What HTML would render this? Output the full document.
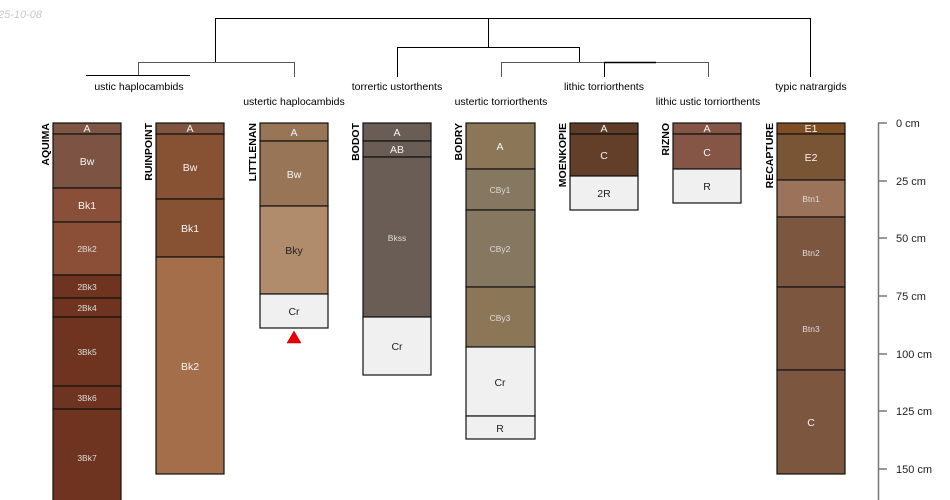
<!DOCTYPE html>
<html><head><meta charset="utf-8"><style>
html,body{margin:0;padding:0;background:#fff;width:950px;height:500px;overflow:hidden}
svg{display:block;font-family:"Liberation Sans",sans-serif}
</style></head><body>
<svg width="950" height="500" viewBox="0 0 950 500">
<text x="-2" y="18" font-size="11" font-style="italic" fill="#c8c8c8">25-10-08</text>
<g stroke="#000" stroke-width="1" fill="none">
<path d="M215.5 62V18.5H810.5V77"/>
<path d="M488.5 18V47"/>
<path d="M397.5 77V47.5H579.5V62"/>
<path d="M138.5 76V62.5H294.5V77" stroke="#555"/>
<path d="M86 75.5H190"/>
<path d="M501.5 77V62.5H708.5V77" stroke="#555"/>
<path d="M604.5 62V77"/>
<path d="M604 62.5H656" stroke-width="1.5"/>
</g>
<g font-size="10.5" fill="#000" text-anchor="middle">
<text x="139" y="90">ustic haplocambids</text>
<text x="294" y="105">ustertic haplocambids</text>
<text x="397" y="90">torrertic ustorthents</text>
<text x="501" y="105">ustertic torriorthents</text>
<text x="604" y="90">lithic torriorthents</text>
<text x="708" y="105">lithic ustic torriorthents</text>
<text x="811" y="90">typic natrargids</text>
</g>
<g stroke="#111" stroke-width="1.2">
<!-- AQUIMA -->
<rect x="53" y="123" width="68" height="11" fill="#7f5645"/>
<rect x="53" y="134" width="68" height="54" fill="#7d5444"/>
<rect x="53" y="188" width="68" height="34" fill="#8a4f38"/>
<rect x="53" y="222" width="68" height="53" fill="#8b4f38"/>
<rect x="53" y="275" width="68" height="23" fill="#6e3420"/>
<rect x="53" y="298" width="68" height="19" fill="#6e3420"/>
<rect x="53" y="317" width="68" height="69" fill="#6e3420"/>
<rect x="53" y="386" width="68" height="23" fill="#6e3420"/>
<rect x="53" y="409" width="68" height="100" fill="#6e3420"/>
<!-- RUINPOINT -->
<rect x="156" y="123" width="68" height="11" fill="#7f5540"/>
<rect x="156" y="134" width="68" height="65" fill="#875233"/>
<rect x="156" y="199" width="68" height="58" fill="#875233"/>
<rect x="156" y="257" width="68" height="217" fill="#a56e4a"/>
<!-- LITTLENAN -->
<rect x="260" y="123" width="68" height="18" fill="#977556"/>
<rect x="260" y="141" width="68" height="65" fill="#977556"/>
<rect x="260" y="206" width="68" height="88" fill="#b08c6c"/>
<rect x="260" y="294" width="68" height="34" fill="#f0f0f0"/>
<!-- BODOT -->
<rect x="363" y="123" width="68" height="18" fill="#6a5d55"/>
<rect x="363" y="141" width="68" height="16" fill="#6a5d55"/>
<rect x="363" y="157" width="68" height="160" fill="#6a5d55"/>
<rect x="363" y="317" width="68" height="58" fill="#f0f0f0"/>
<!-- BODRY -->
<rect x="466" y="123" width="69" height="46" fill="#8b7757"/>
<rect x="466" y="169" width="69" height="41" fill="#857760"/>
<rect x="466" y="210" width="69" height="77" fill="#857760"/>
<rect x="466" y="287" width="69" height="60" fill="#8b7757"/>
<rect x="466" y="347" width="69" height="69" fill="#f0f0f0"/>
<rect x="466" y="416" width="69" height="23" fill="#f0f0f0"/>
<!-- MOENKOPIE -->
<rect x="570" y="123" width="68" height="11" fill="#5e3c28"/>
<rect x="570" y="134" width="68" height="42" fill="#633f2a"/>
<rect x="570" y="176" width="68" height="34" fill="#f0f0f0"/>
<!-- RIZNO -->
<rect x="673" y="123" width="68" height="11" fill="#855645"/>
<rect x="673" y="134" width="68" height="35" fill="#855645"/>
<rect x="673" y="169" width="68" height="34" fill="#f0f0f0"/>
<!-- RECAPTURE -->
<rect x="777" y="123" width="68" height="11" fill="#7f4e24"/>
<rect x="777" y="134" width="68" height="46" fill="#795535"/>
<rect x="777" y="180" width="68" height="37" fill="#9b735a"/>
<rect x="777" y="217" width="68" height="70" fill="#7d5640"/>
<rect x="777" y="287" width="68" height="83" fill="#7d5640"/>
<rect x="777" y="370" width="68" height="104" fill="#7d5640"/>
</g>
<polygon points="294,331 287,343 301,343" fill="#e00" stroke="#900" stroke-width="0.5"/>
<g text-anchor="middle" font-size="10.5" fill="#f4f4f4">
<text x="87" y="132">A</text><text x="87" y="165">Bw</text><text x="87" y="209">Bk1</text>
<g font-size="8.5" fill="#ddd"><text x="87" y="252">2Bk2</text><text x="87" y="290">2Bk3</text><text x="87" y="311">2Bk4</text><text x="87" y="355">3Bk5</text><text x="87" y="401">3Bk6</text><text x="87" y="461">3Bk7</text></g>
<text x="190" y="132">A</text><text x="190" y="171">Bw</text><text x="190" y="232">Bk1</text><text x="190" y="370">Bk2</text>
<text x="294" y="136">A</text><text x="294" y="178">Bw</text><text x="294" y="254" fill="#222">Bky</text><text x="294" y="315" fill="#222">Cr</text>
<text x="397" y="136">A</text><text x="397" y="153">AB</text><text x="397" y="241" font-size="8.5" fill="#ddd">Bkss</text><text x="397" y="350" fill="#222">Cr</text>
<text x="500" y="150">A</text>
<g font-size="8.5" fill="#ddd"><text x="500" y="193">CBy1</text><text x="500" y="252">CBy2</text><text x="500" y="321">CBy3</text></g>
<text x="500" y="386" fill="#222">Cr</text><text x="500" y="432" fill="#222">R</text>
<text x="604" y="132">A</text><text x="604" y="159">C</text><text x="604" y="197" fill="#222">2R</text>
<text x="707" y="132">A</text><text x="707" y="156">C</text><text x="707" y="190" fill="#222">R</text>
<text x="811" y="132">E1</text><text x="811" y="161">E2</text>
<g font-size="8.5" fill="#ddd"><text x="811" y="202">Btn1</text><text x="811" y="256">Btn2</text><text x="811" y="332">Btn3</text></g>
<text x="811" y="426">C</text>
</g>
<g font-size="10.5" font-weight="bold" fill="#000" text-anchor="end">
<text transform="translate(49,123) rotate(-90)">AQUIMA</text>
<text transform="translate(152,123) rotate(-90)">RUINPOINT</text>
<text transform="translate(256,123) rotate(-90)">LITTLENAN</text>
<text transform="translate(359,123) rotate(-90)">BODOT</text>
<text transform="translate(462,123) rotate(-90)">BODRY</text>
<text transform="translate(566,123) rotate(-90)">MOENKOPIE</text>
<text transform="translate(669,123) rotate(-90)">RIZNO</text>
<text transform="translate(773,123) rotate(-90)">RECAPTURE</text>
</g>
<g stroke="#777" stroke-width="1.5">
<line x1="878.5" y1="123" x2="878.5" y2="500"/>
<line x1="878" y1="123" x2="887" y2="123"/><line x1="878" y1="181" x2="887" y2="181"/>
<line x1="878" y1="238" x2="887" y2="238"/><line x1="878" y1="296" x2="887" y2="296"/>
<line x1="878" y1="354" x2="887" y2="354"/><line x1="878" y1="411" x2="887" y2="411"/>
<line x1="878" y1="469" x2="887" y2="469"/>
</g>
<g font-size="11" fill="#222">
<text x="896" y="127">0 cm</text><text x="896" y="185">25 cm</text><text x="896" y="242">50 cm</text>
<text x="896" y="300">75 cm</text><text x="896" y="358">100 cm</text><text x="896" y="415">125 cm</text><text x="896" y="473">150 cm</text>
</g>
</svg>
</body></html>
